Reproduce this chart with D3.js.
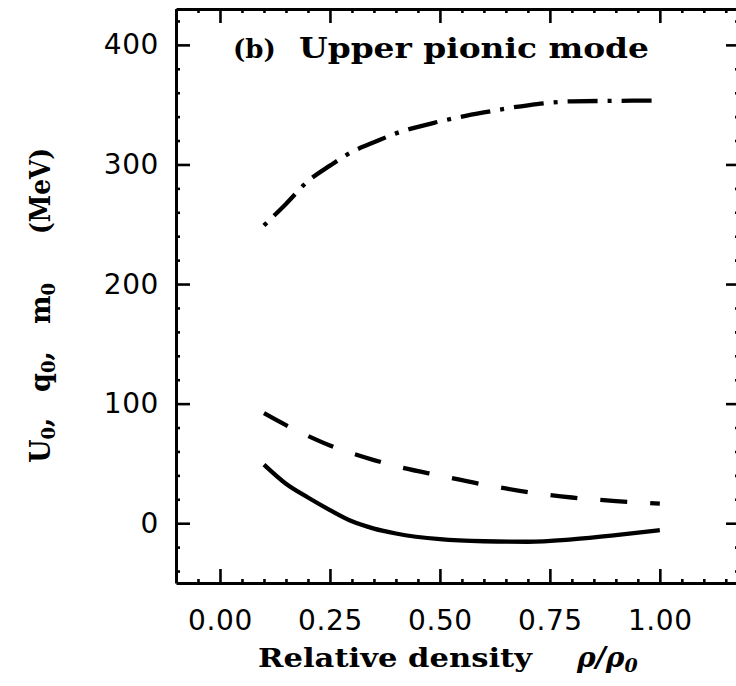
<!DOCTYPE html>
<html>
<head>
<meta charset="utf-8">
<script src="https://cdn.jsdelivr.net/npm/d3@7"></script>
<style>
  body { margin: 0; background: #fff; }
  svg { display: block; }
</style>
</head>
<body>
<svg id="chart" width="736" height="686"></svg>
<script>
// Relative density grid (rho / rho_0) shared by the three curves
const density = [0.10, 0.15, 0.20, 0.25, 0.30, 0.35, 0.40, 0.50, 0.60, 0.70, 0.80, 0.90, 1.00];
// Dash-dot curve (MeV)
const m0Values = [249, 267, 286, 299, 310.5, 318.5, 326, 336, 343.5, 349.5, 352.8, 353.2, 353.5];
// Dashed curve (MeV)
const q0Values = [92, 82, 73, 65, 58.5, 52.8, 47.8, 39.8, 32.3, 26, 21.5, 18.5, 16.4];
// Solid curve (MeV)
const u0Values = [49, 33, 21.5, 11, 1.6, -4.5, -8.6, -13.4, -15.1, -15.5, -13.5, -10, -5.8];

// Axis ticks
const xMajorTicks = [0, 0.25, 0.5, 0.75, 1.0];
const xMinorTicks = d3.range(-2, 24).map(i => +(i * 0.05).toFixed(2));
const yMajorTicks = [0, 100, 200, 300, 400];
const yMinorTicks = d3.range(-2, 22).map(i => i * 20);

const ink = "#000";
const svg = d3.select("#chart");

const x = d3.scaleLinear().domain([-0.1, 1.18]).range([176, 739]);
const y = d3.scaleLinear().domain([-50, 430]).range([583, 9]);

const frameLeft = x.range()[0], frameRight = x.range()[1];
const frameTop = y.range()[1], frameBottom = y.range()[0];

// ---- frame axes: major ticks point inward ----
function styleAxis(g, width) {
  g.select(".domain").attr("stroke", ink).attr("stroke-width", width);
  g.selectAll(".tick line").attr("stroke", ink).attr("stroke-width", 2.6);
}

const bottomAxis = svg.append("g")
  .attr("transform", `translate(0,${frameBottom})`)
  .call(d3.axisBottom(x).tickValues(xMajorTicks).tickSizeInner(-14).tickSizeOuter(0)
    .tickPadding(27).tickFormat(d3.format(".2f")));
styleAxis(bottomAxis, 3);

const topAxis = svg.append("g")
  .attr("transform", `translate(0,${frameTop})`)
  .call(d3.axisTop(x).tickValues(xMajorTicks).tickSizeInner(-14).tickSizeOuter(0).tickFormat(""));
styleAxis(topAxis, 3);

const leftAxis = svg.append("g")
  .attr("transform", `translate(${frameLeft},0)`)
  .call(d3.axisLeft(y).tickValues(yMajorTicks).tickSizeInner(-14).tickSizeOuter(0)
    .tickPadding(17).tickFormat(d3.format("d")));
styleAxis(leftAxis, 3);

const rightAxis = svg.append("g")
  .attr("transform", `translate(${frameRight},0)`)
  .call(d3.axisRight(y).tickValues(yMajorTicks).tickSizeInner(-13).tickSizeOuter(0).tickFormat(""));
styleAxis(rightAxis, 3);

// ---- minor ticks ----
function minor(axisFn, scale, values, transform) {
  const g = svg.append("g").attr("transform", transform)
    .call(axisFn(scale).tickValues(values).tickSizeInner(-4).tickSizeOuter(0).tickFormat(""));
  g.select(".domain").remove();
  g.selectAll(".tick line").attr("stroke", ink).attr("stroke-width", 2.6);
}
const xMinorOnly = xMinorTicks.filter(v => !xMajorTicks.includes(v));
const yMinorOnly = yMinorTicks.filter(v => !yMajorTicks.includes(v));
minor(d3.axisBottom, x, xMinorOnly, `translate(0,${frameBottom})`);
minor(d3.axisTop, x, xMinorOnly, `translate(0,${frameTop})`);
minor(d3.axisLeft, y, yMinorOnly, `translate(${frameLeft},0)`);
minor(d3.axisRight, y, yMinorOnly, `translate(${frameRight},0)`);

// tick label font
svg.selectAll(".tick text")
  .attr("fill", ink)
  .attr("font-family", "'DejaVu Sans', sans-serif")
  .attr("font-size", 28)
  .attr("letter-spacing", 0.6);

// ---- curves ----
const line = vals => d3.line()
  .x((d, i) => x(density[i]))
  .y(d => y(d))
  .curve(d3.curveMonotoneX)(vals);

svg.append("path").attr("d", line(m0Values))
  .attr("fill", "none").attr("stroke", ink).attr("stroke-width", 4.3)
  .attr("stroke-dasharray", "4,10,30,10");

svg.append("path").attr("d", line(q0Values))
  .attr("fill", "none").attr("stroke", ink).attr("stroke-width", 4.3)
  .attr("stroke-dasharray", "27,23");

svg.append("path").attr("d", line(u0Values))
  .attr("fill", "none").attr("stroke", ink).attr("stroke-width", 4.3);

// ---- text ----
const serif = "'DejaVu Serif', serif";

svg.append("text").attr("x", 233).attr("y", 58)
  .attr("font-family", serif).attr("font-weight", "bold").attr("font-size", 26)
  .attr("fill", ink).text("(b)");

svg.append("text").attr("x", 299).attr("y", 58)
  .attr("font-family", serif).attr("font-weight", "bold").attr("font-size", 27)
  .attr("textLength", 350).attr("lengthAdjust", "spacingAndGlyphs")
  .attr("fill", ink).text("Upper pionic mode");

// x-axis title
svg.append("text").attr("x", 258).attr("y", 667)
  .attr("font-family", serif).attr("font-weight", "bold").attr("font-size", 26)
  .attr("textLength", 274).attr("lengthAdjust", "spacingAndGlyphs")
  .attr("fill", ink).text("Relative density");

const rhoText = svg.append("text").attr("x", 577).attr("y", 667)
  .attr("font-family", serif).attr("font-weight", "bold").attr("font-style", "italic")
  .attr("font-size", 28).attr("fill", ink);
rhoText.append("tspan").text("ρ/ρ");
rhoText.append("tspan").attr("font-size", 19).attr("dy", 5).text("0");

// y-axis title (rotated), with subscripted zeros
const yTitle = svg.append("g").attr("transform", "translate(50,0) rotate(-90)");
function subscripted(parent, xPos, base, tail) {
  const t = parent.append("text").attr("x", xPos).attr("y", 0)
    .attr("font-family", serif).attr("font-weight", "bold").attr("font-size", 27).attr("fill", ink);
  t.append("tspan").text(base);
  t.append("tspan").attr("font-size", 18).attr("dy", 5).text("0");
  if (tail) t.append("tspan").attr("dy", -5).text(tail);
  return t;
}
subscripted(yTitle, -463, "U", ",");
subscripted(yTitle, -392, "q", ",");
subscripted(yTitle, -324, "m", "");
yTitle.append("text").attr("x", -234).attr("y", 0)
  .attr("font-family", serif).attr("font-weight", "bold").attr("font-size", 28)
  .attr("textLength", 86).attr("lengthAdjust", "spacingAndGlyphs")
  .attr("fill", ink).text("(MeV)");
</script>
</body>
</html>
